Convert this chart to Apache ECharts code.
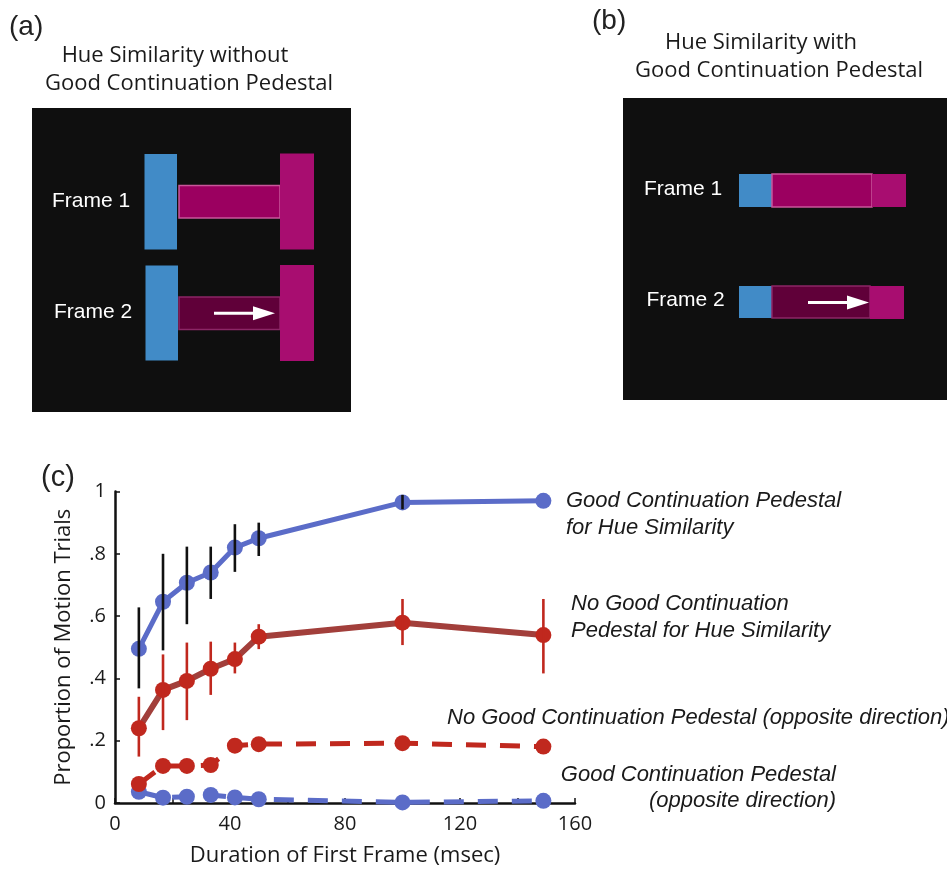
<!DOCTYPE html>
<html>
<head>
<meta charset="utf-8">
<script src="https://cdn.jsdelivr.net/npm/echarts@6/dist/echarts.min.js"></script>
<style>html,body{margin:0;padding:0;background:#fff}#c{width:947px;height:869px}</style>
</head>
<body>
<div id="c"></div>
<script>
// ---- data ----
const durations = [8.3, 16.7, 25, 33.3, 41.7, 50, 100, 149];
const gcHue      = [0.495, 0.646, 0.707, 0.740, 0.820, 0.850, 0.965, 0.970];
const gcHueLow   = [0.368, 0.490, 0.574, 0.655, 0.742, 0.793, 0.943, null];
const gcHueHigh  = [0.628, 0.800, 0.823, 0.823, 0.895, 0.900, 0.989, null];
const noGcHue     = [0.240, 0.363, 0.392, 0.431, 0.462, 0.534, 0.579, 0.539];
const noGcHueLow  = [0.149, 0.234, 0.266, 0.347, 0.416, 0.494, 0.507, 0.416];
const noGcHueHigh = [0.341, 0.477, 0.515, 0.518, 0.515, 0.574, 0.655, 0.655];
const noGcOpp = [0.061, 0.119, 0.119, 0.122, 0.184, 0.189, 0.192, 0.181];
const gcOpp   = [0.036, 0.017, 0.020, 0.026, 0.018, 0.012, 0.002, 0.007];
const xTicks = [0, 40, 80, 120, 160];
const yTickLabels = {0: '0', 0.2: '.2', 0.4: '.4', 0.6: '.6', 0.8: '.8', 1: '1'};

const BLUE = '#5b6cc8', RED = '#c0281e', RED_LINE = '#a23f3b';
const pairs = (ys) => durations.map((x, i) => [x, ys[i]]);
const bars = (lo, hi) => durations.map((x, i) => [x, lo[i], hi[i]]).filter(d => d[1] != null);

function errRender(color) {
  return function (params, api) {
    const a = api.coord([api.value(0), api.value(1)]);
    const b = api.coord([api.value(0), api.value(2)]);
    return {type: 'line', shape: {x1: a[0], y1: a[1], x2: b[0], y2: b[1]},
            style: {stroke: color, lineWidth: 2.6}};
  };
}

const SANS = '"Liberation Sans", Arial, sans-serif';
const MYR = '"Open Sans", sans-serif';
function txt(text, x, y, font, opts) {
  return {type: 'text', x: x, y: y, silent: true,
    style: Object.assign({text: text, font: font, fill: '#1a1a1a', align: 'left', verticalAlign: 'middle'}, opts || {})};
}
function rect(x, y, w, h, fill, stroke) {
  return {type: 'rect', silent: true, shape: {x: x, y: y, width: w, height: h},
    style: {fill: fill, stroke: stroke || null, lineWidth: stroke ? 1.5 : 0}};
}
function arrow(x1, x2, y, headLen) {
  return [
    {type: 'line', silent: true, shape: {x1: x1, y1: y, x2: x2 - headLen + 2, y2: y}, style: {stroke: '#fff', lineWidth: 3}},
    {type: 'polygon', silent: true, shape: {points: [[x2 - headLen, y - 7], [x2, y], [x2 - headLen, y + 7]]}, style: {fill: '#fff'}}
  ];
}

const BLUEBAR = '#418bc7', MAG = '#a80d70', PED1 = '#9b0060', PED1S = '#c9569a', PED2 = '#600039', PED2S = '#8c2666';

const graphics = [
  // panel (a)
  txt('(a)', 9, 27, '28px ' + SANS, {fill: '#222'}),
  txt('Hue Similarity without', 175, 56, '22px ' + MYR, {align: 'center'}),
  txt('Good Continuation Pedestal', 189, 84, '22px ' + MYR, {align: 'center'}),
  rect(32, 108, 319, 304, '#0f0f0f'),
  rect(144.5, 154, 32.5, 95.5, BLUEBAR),
  rect(179, 185.5, 101, 32.5, PED1, PED1S),
  rect(280, 153.5, 34, 96, MAG),
  rect(145.5, 265.5, 32.5, 95, BLUEBAR),
  rect(179, 297, 101, 32.5, PED2, PED2S),
  rect(280, 265, 34, 96, MAG),
  ...arrow(214, 275, 313.3, 22),
  txt('Frame 1', 52, 201, '21px ' + SANS, {fill: '#fff'}),
  txt('Frame 2', 54, 312, '21px ' + SANS, {fill: '#fff'}),
  // panel (b)
  txt('(b)', 592, 21, '28px ' + SANS, {fill: '#222'}),
  txt('Hue Similarity with', 761, 43, '22px ' + MYR, {align: 'center'}),
  txt('Good Continuation Pedestal', 779, 71, '22px ' + MYR, {align: 'center'}),
  rect(623, 98, 324, 302, '#0f0f0f'),
  rect(739, 174, 33, 33, BLUEBAR),
  rect(772, 174, 100, 33, PED1, PED1S),
  rect(872, 174, 34, 33, MAG),
  rect(739, 286, 33, 32, BLUEBAR),
  rect(772, 286, 98, 32, PED2, PED2S),
  rect(870, 286, 34, 33, MAG),
  ...arrow(808, 869, 302.5, 22),
  txt('Frame 1', 644, 189, '21px ' + SANS, {fill: '#fff'}),
  txt('Frame 2', 646.5, 300.5, '21px ' + SANS, {fill: '#fff'}),
  // panel (c) labels
  txt('(c)', 41, 478, '29px ' + SANS, {fill: '#222'}),
  txt('Good Continuation Pedestal', 566, 500.5, 'italic 22px ' + SANS),
  txt('for Hue Similarity', 566, 527.5, 'italic 22px ' + SANS),
  txt('No Good Continuation', 571, 604, 'italic 22px ' + SANS),
  txt('Pedestal for Hue Similarity', 571, 630.5, 'italic 22px ' + SANS),
  txt('No Good Continuation Pedestal (opposite direction)', 447, 718.3, 'italic 22px ' + SANS),
  txt('Good Continuation Pedestal', 836, 775, 'italic 22px ' + SANS, {align: 'right'}),
  txt('(opposite direction)', 836, 800.6, 'italic 22px ' + SANS, {align: 'right'})
];

const chart = echarts.init(document.getElementById('c'), null, {renderer: 'canvas'});
chart.setOption({
  animation: false,
  backgroundColor: '#fff',
  grid: {left: 115, right: 372, top: 491.5, bottom: 66, containLabel: false},
  xAxis: {
    type: 'value', min: 0, max: 160, interval: 20,
    name: 'Duration of First Frame (msec)', nameLocation: 'middle', nameGap: 42,
    nameTextStyle: {fontFamily: MYR, fontSize: 22, color: '#1a1a1a'},
    axisLine: {lineStyle: {color: '#111', width: 2.5}},
    axisTick: {inside: true, length: 5, lineStyle: {color: '#111', width: 1.5}},
    axisLabel: {fontFamily: MYR, fontSize: 20, color: '#1a1a1a', margin: 11,
      formatter: v => xTicks.indexOf(v) >= 0 ? String(v) : ''},
    splitLine: {show: false}
  },
  yAxis: {
    type: 'value', min: 0, max: 1, interval: 0.2,
    name: 'Proportion of Motion Trials', nameLocation: 'middle', nameGap: 40,
    nameTextStyle: {fontFamily: MYR, fontSize: 22, color: '#1a1a1a'},
    axisLine: {show: true, lineStyle: {color: '#111', width: 2.5}},
    axisTick: {show: true, inside: true, length: 5, lineStyle: {color: '#111', width: 1.5}},
    axisLabel: {fontFamily: MYR, fontSize: 20, color: '#1a1a1a', margin: 9,
      formatter: v => yTickLabels[Math.round(v * 10) / 10] || ''},
    splitLine: {show: false}
  },
  series: [
    {type: 'line', data: pairs(gcOpp), symbol: 'circle', symbolSize: 16, z: 2,
      itemStyle: {color: BLUE}, lineStyle: {color: BLUE, width: 5, type: [20, 14]}},
    {type: 'line', data: pairs(noGcOpp), symbol: 'circle', symbolSize: 16, z: 2,
      itemStyle: {color: RED}, lineStyle: {color: RED, width: 5, type: [20, 14]}},
    {type: 'line', data: pairs(noGcHue), symbol: 'circle', symbolSize: 16, z: 3,
      itemStyle: {color: RED}, lineStyle: {color: RED_LINE, width: 6}},
    {type: 'line', data: pairs(gcHue), symbol: 'circle', symbolSize: 16, z: 3,
      itemStyle: {color: BLUE}, lineStyle: {color: BLUE, width: 5}},
    {type: 'custom', data: bars(noGcHueLow, noGcHueHigh), renderItem: errRender(RED), z: 5,
      encode: {x: 0, y: [1, 2]}},
    {type: 'custom', data: bars(gcHueLow, gcHueHigh), renderItem: errRender('#111'), z: 5,
      encode: {x: 0, y: [1, 2]}}
  ],
  graphic: graphics
});
</script>
</body>
</html>
